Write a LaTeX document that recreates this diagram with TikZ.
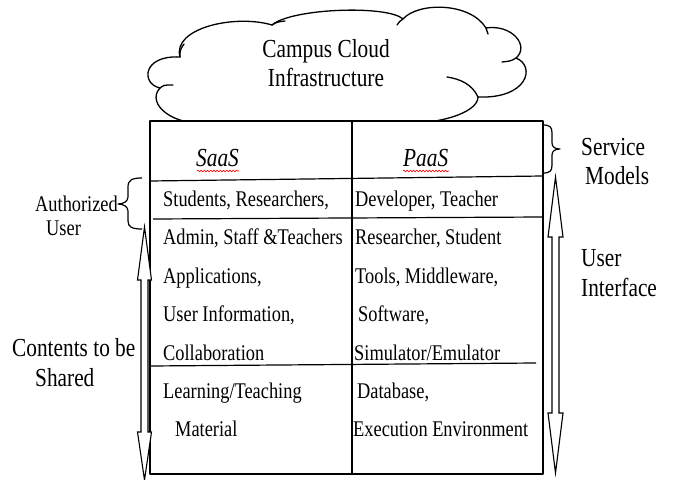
\documentclass[tikz,border=0pt]{standalone}
\usepackage{fontspec}
\setmainfont{Liberation Serif}[FakeStretch=0.82]
\usetikzlibrary{decorations.pathmorphing}

\newcommand\celltext{\fontsize{22.4bp}{26bp}\selectfont}
\newcommand\sidetext{\fontsize{26bp}{30bp}\selectfont}

% Hollow up-down block arrow: centre x, top tip y, bottom tip y, top head length, bottom head length, half head width
\newcommand\BlockArrow[6]{%
  \draw[arrowline] (#1,#2) -- (#1+#6,#2+#4) -- (#1+3.5,#2+#4) -- (#1+3.5,#3-#5)
    -- (#1+#6,#3-#5) -- (#1,#3) -- (#1-#6,#3-#5) -- (#1-3.5,#3-#5)
    -- (#1-3.5,#2+#4) -- (#1-#6,#2+#4) -- cycle;}

\tikzset{
  cloudline/.style={line width=1.3bp, line cap=round},
  gridline/.style={line width=1.2bp},
  frameline/.style={line width=1.7bp},
  arrowline/.style={line width=1.1bp, fill=white, line join=miter},
  braceline/.style={line width=1.2bp},
  cell/.style={anchor=base west, inner sep=0pt, font=\celltext},
  side/.style={anchor=base west, inner sep=0pt, font=\sidetext},
  wavy/.style={red, line width=0.6bp, decorate,
    decoration={snake, segment length=3.2bp, amplitude=0.9bp}},
}

\begin{document}
\begin{tikzpicture}[x=1bp, y=-1bp, line join=round]
\useasboundingbox (0,0) rectangle (673,480);

% ---- cloud ----
\draw[cloudline] (210,122) .. controls (175,128) and (145,104) .. (160,88)
  .. controls (141,84) and (142,55) .. (180,57)
  .. controls (172,28) and (235,14) .. (272,25)
  .. controls (292,8) and (388,5) .. (403,19)
  .. controls (418,2) and (470,2) .. (486,28)
  .. controls (512,24) and (530,46) .. (516,58)
  .. controls (536,66) and (528,99) .. (478,97)
  .. controls (478,114) and (432,126) .. (400,122)
  .. controls (380,150) and (230,150) .. (210,122) -- cycle;
% inner curls of the lobes
\draw[cloudline] (160,88) .. controls (164,85) .. (173,85);
\draw[cloudline] (180,57) .. controls (180,50) .. (184,44);
\draw[cloudline] (272,25) .. controls (277,22) .. (285,21);
\draw[cloudline] (403,19) .. controls (400,21) .. (397,25);
\draw[cloudline] (486,28) .. controls (487,31) .. (488,34);
\draw[cloudline] (516,58) .. controls (511,61) .. (502,62);
\draw[cloudline] (478,97) .. controls (472,84) and (460,79) .. (447,77);
\node[anchor=base, inner sep=0pt, font=\sidetext] (cloud1) at (326,58) {Campus Cloud};
\node[anchor=base, inner sep=0pt, font=\sidetext] (cloud2) at (326,87) {Infrastructure};

% ---- table ----
\node[draw, frameline, fill=white, inner sep=0pt, outer sep=0pt,
      minimum width=393bp, minimum height=353bp, anchor=north west] (tbl) at (150,121) {};
\draw[gridline] (352,121) -- (352,473);
\draw[gridline] (150,181) -- (543,176);
\draw[gridline] (153,219) -- (543,217);
\draw[gridline] (150,366) -- (536,363);

\node[side, font=\sidetext\itshape] (saas) at (196,167) {SaaS};
\node[side, font=\sidetext\itshape] (paas) at (403,167) {PaaS};
\draw[wavy] (197,171) -- (239,171);
\draw[wavy] (403,171) -- (449,171);

\node[cell] (s1) at (163,206.5) {Students, Researchers,};
\node[cell] (s2) at (163,245) {Admin, Staff \&Teachers};
\node[cell] (s3) at (163,283) {Applications,};
\node[cell] (s4) at (163,321.5) {User Information,};
\node[cell] (s5) at (163,360) {Collaboration};
\node[cell] (s6) at (163,398) {Learning/Teaching};
\node[cell] (s7) at (175,436.5) {Material};

\node[cell] (p1) at (355,206.5) {Developer, Teacher};
\node[cell] (p2) at (355,245) {Researcher, Student};
\node[cell] (p3) at (355,283) {Tools, Middleware,};
\node[cell] (p4) at (358,321.5) {Software,};
\node[cell] (p5) at (354,360) {Simulator/Emulator};
\node[cell] (p6) at (357,398) {Database,};
\node[cell] (p7) at (353,436.5) {Execution Environment};

% ---- left side ----
\draw[braceline] (142,178) .. controls (132,178) and (128,180) .. (128,187) -- (128,197)
  .. controls (128,201) and (124,204) .. (118,204)
  .. controls (124,204) and (128,207) .. (128,211) -- (128,221)
  .. controls (128,227) and (132,229) .. (142,229);
\node[cell] (auth1) at (35,212) {Authorized};
\node[cell] (auth2) at (46,236) {User};

\BlockArrow{144.5}{227}{480}{53}{48}{7}
\node[side] (share1) at (12,356) {Contents to be};
\node[side] (share2) at (35,386) {Shared};

% ---- right side ----
\draw[braceline] (543,125) .. controls (550,125) and (552,127) .. (552,133) -- (552,143)
  .. controls (552,147) and (555,149) .. (560,149)
  .. controls (555,149) and (552,151) .. (552,155) -- (552,165)
  .. controls (552,171) and (550,173) .. (543,173);
\node[side] (sm1) at (581,156) {Service};
\node[side] (sm2) at (585,185) {Models};

\BlockArrow{555.5}{177}{473}{60}{60}{7.5}
\node[side] (ui1) at (581,267) {User};
\node[side] (ui2) at (581,296) {Interface};
\end{tikzpicture}
\end{document}
